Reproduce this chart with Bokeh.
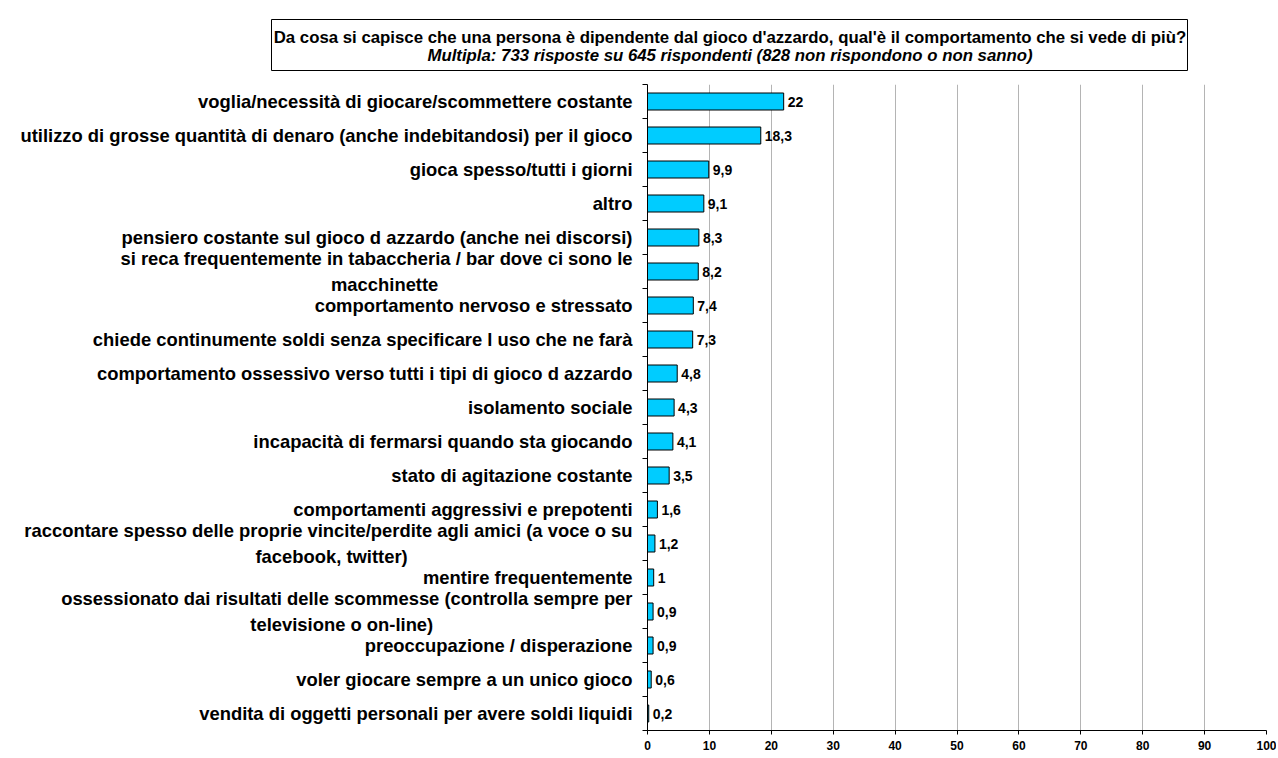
from bokeh.plotting import figure
from bokeh.models import LinearAxis, FixedTicker, Range1d, ColumnDataSource
from bokeh.layouts import column
from bokeh.core.properties import value
from bokeh.embed import file_html
from bokeh.resources import INLINE

categories = [
    "voglia/necessità di giocare/scommettere costante",
    "utilizzo di grosse quantità di denaro (anche indebitandosi) per il gioco",
    "gioca spesso/tutti i giorni",
    "altro",
    "pensiero costante sul gioco d azzardo (anche nei discorsi)",
    "si reca frequentemente in tabaccheria / bar dove ci sono le\nmacchinette",
    "comportamento nervoso e stressato",
    "chiede continumente soldi senza specificare l uso che ne farà",
    "comportamento ossessivo verso tutti i tipi di gioco d azzardo",
    "isolamento sociale",
    "incapacità di fermarsi quando sta giocando",
    "stato di agitazione costante",
    "comportamenti aggressivi e prepotenti",
    "raccontare spesso delle proprie vincite/perdite agli amici (a voce o su\nfacebook, twitter)",
    "mentire frequentemente",
    "ossessionato dai risultati delle scommesse (controlla sempre per\ntelevisione o on-line)",
    "preoccupazione / disperazione",
    "voler giocare sempre a un unico gioco",
    "vendita di oggetti personali per avere soldi liquidi",
]
values = [22, 18.3, 9.9, 9.1, 8.3, 8.2, 7.4, 7.3, 4.8, 4.3, 4.1, 3.5, 1.6, 1.2, 1, 0.9, 0.9, 0.6, 0.2]
x_ticks = [0, 10, 20, 30, 40, 50, 60, 70, 80, 90, 100]
title_line1 = "Da cosa si capisce che una persona è dipendente dal gioco d'azzardo, qual'è il comportamento che si vede di più?"
title_line2 = "Multipla: 733 risposte su 645 rispondenti (828 non rispondono o non sanno)"

FONT = "Liberation Sans"
W = 1276

# second lines of wrapped labels are centred under the first line (as in the original):
# emulate it with trailing no-break spaces on the right-aligned tick label
wrap_pad = {5: 38, 13: 44, 15: 39}


def tick_label(i, c):
    if "\n" in c and i in wrap_pad:
        a, b = c.split("\n", 1)
        return a + "\n" + b + "\u00a0" * wrap_pad[i]
    return c


# ---------------- title panel ----------------
th = figure(width=W, height=84, output_backend="svg", toolbar_location=None,
            x_range=Range1d(0, W), y_range=Range1d(84, 0),
            x_axis_location=None, y_axis_location=None,
            min_border_left=0, min_border_right=0, min_border_top=0, min_border_bottom=0)
th.outline_line_color = None
th.grid.grid_line_color = None
th.quad(left=[271], right=[1187], top=[19], bottom=[70],
        fill_color="white", line_color="black", line_width=1)
th.text(x=[729.5], y=[37], text=[title_line1],
        text_align="center", text_baseline="middle",
        text_font=value(FONT), text_font_style="bold", text_font_size="16.8px",
        text_color="black")
th.text(x=[729.5], y=[55], text=[title_line2],
        text_align="center", text_baseline="middle",
        text_font=value(FONT), text_font_style="bold italic", text_font_size="16.8px",
        text_color="black")

# ---------------- main chart ----------------
idx = list(range(len(categories)))
val_labels = [("%g" % v).replace(".", ",") for v in values]
src = ColumnDataSource(dict(y=idx, v=values, lab=val_labels))

p = figure(width=W, height=672, output_backend="svg", toolbar_location=None,
           x_range=Range1d(0, 100), y_range=Range1d(len(categories) - 0.5, -0.5),
           y_axis_location=None, x_axis_location="below",
           min_border_left=647, min_border_right=10, min_border_top=0, min_border_bottom=26)
p.outline_line_color = None
p.background_fill_color = "white"

for fig in (th, p):
    try:
        fig.frame_align = False
    except Exception:
        pass

p.xgrid.ticker = FixedTicker(ticks=x_ticks)
p.xgrid.grid_line_color = "#B4B4B4"
p.xgrid.grid_line_width = 1
p.ygrid.grid_line_color = None

xa = p.xaxis[0]
xa.ticker = FixedTicker(ticks=x_ticks)
xa.axis_line_color = "black"
xa.axis_line_width = 1
xa.major_tick_line_color = "black"
xa.major_tick_out = 4
xa.major_tick_in = 0
xa.minor_tick_line_color = None
xa.major_label_standoff = 6
xa.major_label_text_font = FONT
xa.major_label_text_font_style = "bold"
xa.major_label_text_font_size = "12px"
xa.major_label_text_color = "black"

ya = LinearAxis(ticker=FixedTicker(ticks=idx,
                                   minor_ticks=[i - 0.5 for i in range(len(categories) + 1)]))
ya.major_label_overrides = {i: tick_label(i, c) for i, c in zip(idx, categories)}
ya.axis_line_color = "black"
ya.axis_line_width = 1
ya.major_tick_line_color = None
ya.major_tick_out = 0
ya.major_tick_in = 0
ya.minor_tick_line_color = "black"
ya.minor_tick_out = 5
ya.minor_tick_in = 0
ya.major_label_standoff = 10
ya.major_label_text_font = FONT
ya.major_label_text_font_style = "bold"
ya.major_label_text_font_size = "18.4px"
ya.major_label_text_color = "black"
p.add_layout(ya, "left")

p.hbar(y="y", right="v", left=0, height=0.5, source=src,
       fill_color="#00CCFF", line_color="black", line_width=1)
p.text(x="v", y="y", text="lab", source=src, x_offset=4,
       text_baseline="middle", text_align="left",
       text_font=value(FONT), text_font_style="bold", text_font_size="14px", text_color="black")

layout = column(th, p, spacing=0)
open("out.html", "w").write(file_html(layout, INLINE))
